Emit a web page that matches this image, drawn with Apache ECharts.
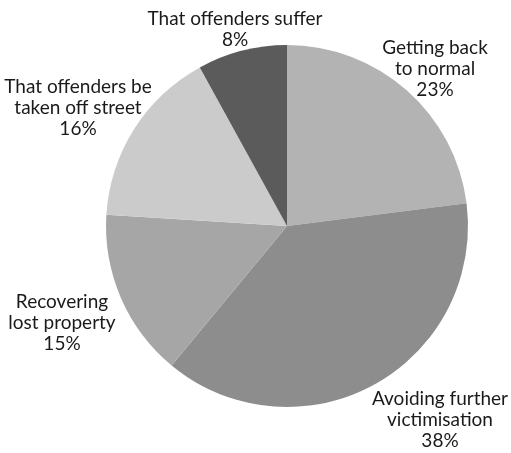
<!DOCTYPE html>
<html><head><meta charset="utf-8">
<script src="https://cdn.jsdelivr.net/npm/echarts@6/dist/echarts.min.js"></script>
<style>html,body{margin:0;padding:0;background:#fff}#c{width:511px;height:453px}</style>
</head><body><div id="c"></div>
<script>
const categories = ["Getting back\nto normal", "Avoiding further\nvictimisation", "Recovering\nlost property", "That offenders be\ntaken off street", "That offenders suffer"];
const values = [23, 38, 15, 16, 8];
const colors = ["#b3b3b3", "#8d8d8d", "#a6a6a6", "#cbcbcb", "#5b5b5b"];
const labelCenters = [[435, 69], [440, 420], [62, 323], [78, 108], [235, 29]];

const chart = echarts.init(document.getElementById('c'), null, {renderer: 'canvas'});
chart.setOption({
  animation: false,
  series: [{
    type: 'pie',
    center: [287, 226],
    radius: 181,
    startAngle: 90,
    clockwise: true,
    data: categories.map((n, i) => ({name: n, value: values[i], itemStyle: {color: colors[i]}})),
    label: {
      show: true,
      position: 'outside',
      formatter: p => p.name + '\n' + p.value + '%',
      fontFamily: 'Lato',
      fontSize: 19,
      lineHeight: 21,
      color: '#1a1a1a',
      align: 'center',
      overflow: 'none',
      width: 300
    },
    labelLine: {show: false},
    labelLayout: function (params) {
      const c = labelCenters[params.dataIndex];
      return {x: c[0], y: c[1], align: 'center', verticalAlign: 'middle', hideOverlap: false, moveOverlap: null};
    },
    emphasis: {disabled: true}
  }]
});
</script></body></html>
